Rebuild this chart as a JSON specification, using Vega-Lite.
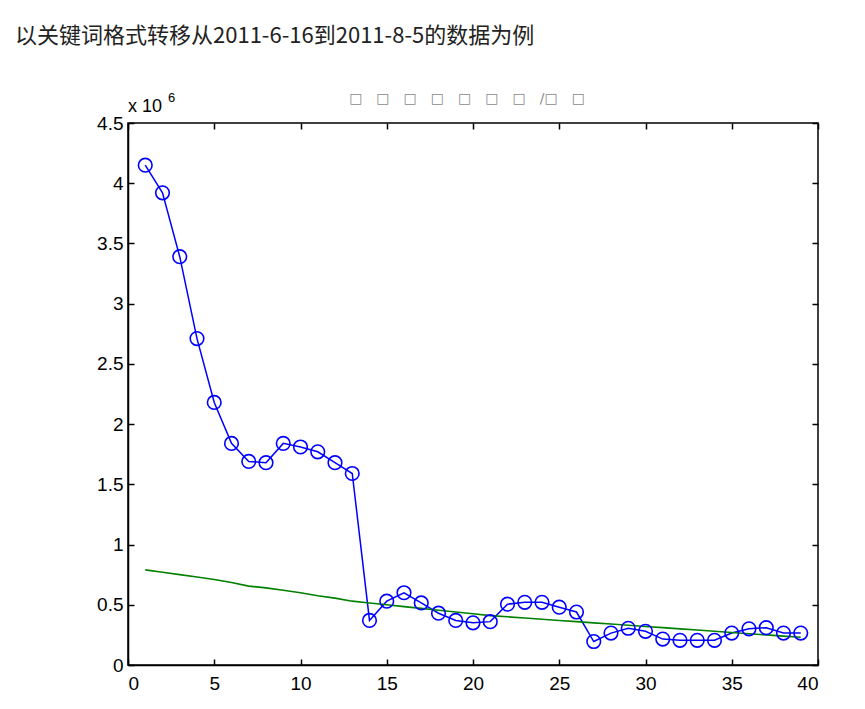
{
  "$schema": "https://vega.github.io/schema/vega-lite/v6.json",
  "width": 690,
  "height": 542,
  "autosize": {"type": "none"},
  "padding": {"left": 128, "top": 123, "right": 47, "bottom": 44},
  "background": "white",
  "config": {
    "view": {"stroke": "black", "strokeWidth": 1.5},
    "font": "Liberation Sans",
    "axis": {
      "domainColor": "black", "domainWidth": 1.5, "tickColor": "black", "tickWidth": 1.5,
      "tickSize": -6, "grid": false, "labelFont": "Liberation Sans", "labelFontSize": 19,
      "labelColor": "black", "title": null
    }
  },
  "title": {
    "text": "以关键词格式转移从2011-6-16到2011-8-5的数据为例",
    "anchor": "start", "frame": "group", "dx": -113, "offset": 44,
    "font": "Noto Sans CJK SC", "fontSize": 22, "fontWeight": "normal", "color": "#222222"
  },
  "datasets": {
    "blue": [
      {"x": 1, "y": 4150000}, {"x": 2, "y": 3920000}, {"x": 3, "y": 3390000}, {"x": 4, "y": 2710000},
      {"x": 5, "y": 2180000}, {"x": 6, "y": 1840000}, {"x": 7, "y": 1690000}, {"x": 8, "y": 1680000},
      {"x": 9, "y": 1840000}, {"x": 10, "y": 1810000}, {"x": 11, "y": 1770000}, {"x": 12, "y": 1680000},
      {"x": 13, "y": 1590000}, {"x": 14, "y": 370000}, {"x": 15, "y": 530000}, {"x": 16, "y": 600000},
      {"x": 17, "y": 515000}, {"x": 18, "y": 430000}, {"x": 19, "y": 370000}, {"x": 20, "y": 350000},
      {"x": 21, "y": 360000}, {"x": 22, "y": 505000}, {"x": 23, "y": 520000}, {"x": 24, "y": 520000},
      {"x": 25, "y": 480000}, {"x": 26, "y": 440000}, {"x": 27, "y": 195000}, {"x": 28, "y": 265000},
      {"x": 29, "y": 305000}, {"x": 30, "y": 280000}, {"x": 31, "y": 215000}, {"x": 32, "y": 205000},
      {"x": 33, "y": 205000}, {"x": 34, "y": 205000}, {"x": 35, "y": 265000}, {"x": 36, "y": 300000},
      {"x": 37, "y": 310000}, {"x": 38, "y": 265000}, {"x": 39, "y": 265000}
    ],
    "green": [
      {"x": 1, "y": 790000}, {"x": 2, "y": 770000}, {"x": 3, "y": 750000}, {"x": 4, "y": 730000},
      {"x": 5, "y": 710000}, {"x": 6, "y": 685000}, {"x": 7, "y": 655000}, {"x": 8, "y": 640000},
      {"x": 9, "y": 620000}, {"x": 10, "y": 600000}, {"x": 11, "y": 575000}, {"x": 12, "y": 555000},
      {"x": 13, "y": 530000}, {"x": 14, "y": 515000}, {"x": 15, "y": 500000}, {"x": 16, "y": 485000},
      {"x": 17, "y": 470000}, {"x": 18, "y": 455000}, {"x": 19, "y": 440000}, {"x": 20, "y": 425000},
      {"x": 21, "y": 410000}, {"x": 22, "y": 400000}, {"x": 23, "y": 390000}, {"x": 24, "y": 380000},
      {"x": 25, "y": 370000}, {"x": 26, "y": 360000}, {"x": 27, "y": 350000}, {"x": 28, "y": 340000},
      {"x": 29, "y": 330000}, {"x": 30, "y": 320000}, {"x": 31, "y": 310000}, {"x": 32, "y": 300000},
      {"x": 33, "y": 290000}, {"x": 34, "y": 280000}, {"x": 35, "y": 270000}, {"x": 36, "y": 260000},
      {"x": 37, "y": 250000}, {"x": 38, "y": 240000}, {"x": 39, "y": 230000}
    ]
  },
  "layer": [
    {
      "data": {"name": "blue"},
      "mark": {"type": "line", "color": "#0000ff", "strokeWidth": 1.5},
      "encoding": {
        "x": {"field": "x", "type": "quantitative", "scale": {"domain": [0, 40], "nice": false},
              "axis": {"orient": "bottom", "values": [0, 5, 10, 15, 20, 25, 30, 35, 40], "labelPadding": 15}},
        "y": {"field": "y", "type": "quantitative", "scale": {"domain": [0, 4500000], "nice": false, "zero": false},
              "axis": {"orient": "left", "values": [0, 500000, 1000000, 1500000, 2000000, 2500000, 3000000, 3500000, 4000000, 4500000],
                       "labelExpr": "datum.value / 1000000", "labelPadding": 11}}
      }
    },
    {
      "data": {"name": "green"},
      "mark": {"type": "line", "color": "#008000", "strokeWidth": 1.6},
      "encoding": {
        "x": {"field": "x", "type": "quantitative",
              "axis": {"orient": "top", "labels": false, "domain": false, "values": [0, 5, 10, 15, 20, 25, 30, 35, 40]}},
        "y": {"field": "y", "type": "quantitative",
              "axis": {"orient": "right", "labels": false, "domain": false, "values": [0, 500000, 1000000, 1500000, 2000000, 2500000, 3000000, 3500000, 4000000, 4500000]}}
      }
    },
    {
      "data": {"name": "blue"},
      "mark": {"type": "point", "shape": "circle", "filled": false, "color": "#0000ff", "size": 185, "strokeWidth": 1.6, "opacity": 1},
      "encoding": {
        "x": {"field": "x", "type": "quantitative", "axis": null},
        "y": {"field": "y", "type": "quantitative", "axis": null}
      }
    },
    {
      "data": {"values": [{"x": 0, "y": 4500000, "t": "x 10"}]},
      "mark": {"type": "text", "align": "left", "baseline": "alphabetic", "dx": 0, "dy": -11, "fontSize": 18, "letterSpacing": 2.5, "font": "Liberation Sans", "color": "black"},
      "encoding": {
        "x": {"field": "x", "type": "quantitative", "axis": null},
        "y": {"field": "y", "type": "quantitative", "axis": null},
        "text": {"field": "t"}
      }
    },
    {
      "data": {"values": [{"x": 0, "y": 4500000, "t": "6"}]},
      "mark": {"type": "text", "align": "left", "baseline": "alphabetic", "dx": 40, "dy": -21, "fontSize": 13, "font": "Liberation Sans", "color": "black"},
      "encoding": {
        "x": {"field": "x", "type": "quantitative", "axis": null},
        "y": {"field": "y", "type": "quantitative", "axis": null},
        "text": {"field": "t"}
      }
    },
    {
      "data": {"values": [{"x": 20, "y": 4500000, "t": "□\u2003□\u2003□\u2003□\u2003□\u2003□\u2003□\u2003/□\u2003□"}]},
      "mark": {"type": "text", "align": "center", "baseline": "middle", "dy": -24, "dx": -6, "fontSize": 14, "font": "DejaVu Sans", "color": "#8a8a8a"},
      "encoding": {
        "x": {"field": "x", "type": "quantitative", "axis": null},
        "y": {"field": "y", "type": "quantitative", "axis": null},
        "text": {"field": "t"}
      }
    }
  ],
  "resolve": {"axis": {"x": "independent", "y": "independent"}}
}
